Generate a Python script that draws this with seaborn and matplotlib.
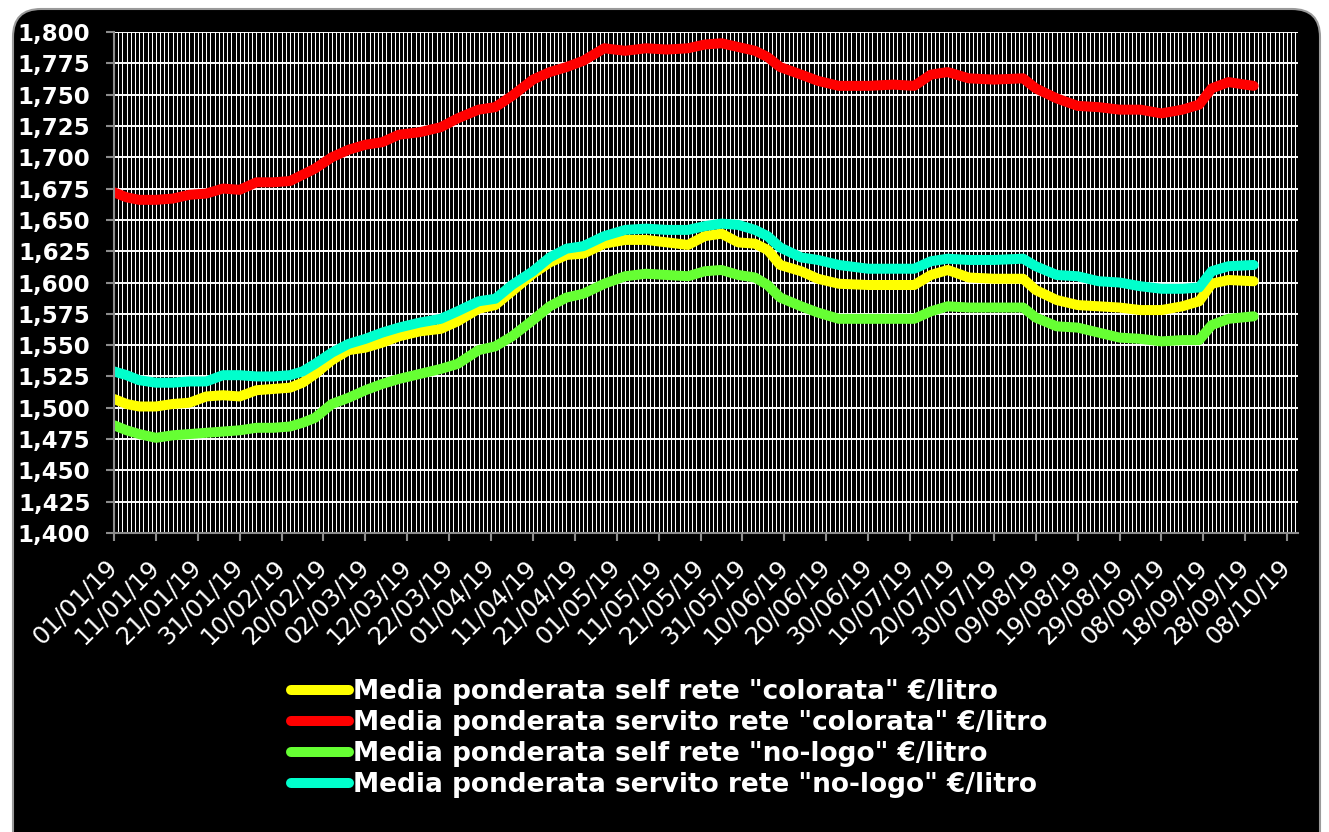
import numpy as np
import pandas as pd
import seaborn as sns
import matplotlib.pyplot as plt
import matplotlib.dates as mdates
from matplotlib.patches import FancyBboxPatch
from matplotlib.transforms import IdentityTransform, ScaledTranslation

dates = ['01/01/19', '04/01/19', '07/01/19', '11/01/19', '15/01/19', '19/01/19', '23/01/19', '27/01/19',
         '31/01/19', '04/02/19', '08/02/19', '12/02/19', '15/02/19', '18/02/19', '22/02/19', '26/02/19',
         '02/03/19', '06/03/19', '10/03/19', '15/03/19', '20/03/19', '24/03/19', '29/03/19', '02/04/19',
         '06/04/19', '11/04/19', '15/04/19', '19/04/19', '23/04/19', '28/04/19', '03/05/19', '08/05/19',
         '13/05/19', '18/05/19', '22/05/19', '26/05/19', '30/05/19', '03/06/19', '06/06/19', '09/06/19',
         '14/06/19', '18/06/19', '23/06/19', '30/06/19', '06/07/19', '11/07/19', '15/07/19', '19/07/19',
         '24/07/19', '30/07/19', '06/08/19', '09/08/19', '14/08/19', '19/08/19', '24/08/19', '29/08/19',
         '03/09/19', '08/09/19', '13/09/19', '17/09/19', '20/09/19', '24/09/19', '30/09/19']

self_colorata = [1.507, 1.503, 1.501, 1.501, 1.503, 1.504, 1.509, 1.510,
                 1.509, 1.514, 1.515, 1.516, 1.520, 1.527, 1.538, 1.546,
                 1.548, 1.552, 1.557, 1.561, 1.563, 1.569, 1.579, 1.582,
                 1.593, 1.607, 1.616, 1.622, 1.623, 1.631, 1.634, 1.634,
                 1.632, 1.630, 1.637, 1.639, 1.632, 1.631, 1.626, 1.614,
                 1.609, 1.603, 1.599, 1.598, 1.598, 1.598, 1.606, 1.610,
                 1.604, 1.603, 1.603, 1.594, 1.586, 1.582, 1.581, 1.580,
                 1.578, 1.578, 1.581, 1.585, 1.599, 1.602, 1.601]

servito_colorata = [1.672, 1.668, 1.666, 1.666, 1.667, 1.670, 1.671, 1.675,
                    1.674, 1.680, 1.680, 1.681, 1.686, 1.691, 1.700, 1.706,
                    1.710, 1.712, 1.718, 1.720, 1.724, 1.731, 1.738, 1.740,
                    1.749, 1.762, 1.768, 1.772, 1.777, 1.787, 1.785, 1.787,
                    1.786, 1.787, 1.790, 1.791, 1.788, 1.785, 1.780, 1.772,
                    1.766, 1.761, 1.757, 1.757, 1.758, 1.757, 1.766, 1.768,
                    1.763, 1.762, 1.763, 1.755, 1.747, 1.741, 1.740, 1.738,
                    1.738, 1.735, 1.738, 1.742, 1.755, 1.760, 1.757]

self_nologo = [1.486, 1.482, 1.479, 1.476, 1.478, 1.479, 1.480, 1.481,
               1.482, 1.484, 1.484, 1.485, 1.488, 1.492, 1.503, 1.508,
               1.514, 1.519, 1.523, 1.527, 1.531, 1.535, 1.546, 1.549,
               1.557, 1.570, 1.581, 1.588, 1.591, 1.599, 1.605, 1.607,
               1.606, 1.605, 1.609, 1.610, 1.606, 1.604, 1.598, 1.588,
               1.581, 1.576, 1.571, 1.571, 1.571, 1.571, 1.577, 1.581,
               1.580, 1.580, 1.580, 1.572, 1.565, 1.564, 1.560, 1.556,
               1.555, 1.553, 1.554, 1.554, 1.566, 1.571, 1.573]

servito_nologo = [1.529, 1.526, 1.522, 1.520, 1.520, 1.521, 1.521, 1.526,
                  1.526, 1.525, 1.525, 1.526, 1.529, 1.535, 1.544, 1.551,
                  1.555, 1.560, 1.564, 1.568, 1.571, 1.577, 1.585, 1.587,
                  1.598, 1.609, 1.620, 1.627, 1.629, 1.637, 1.642, 1.643,
                  1.642, 1.642, 1.645, 1.647, 1.646, 1.642, 1.637, 1.628,
                  1.620, 1.618, 1.614, 1.611, 1.611, 1.611, 1.617, 1.619,
                  1.618, 1.618, 1.619, 1.613, 1.606, 1.605, 1.601, 1.600,
                  1.597, 1.595, 1.595, 1.596, 1.609, 1.613, 1.614]

series = ['Media ponderata self rete "colorata" €/litro',
          'Media ponderata servito rete "colorata" €/litro',
          'Media ponderata self rete "no-logo" €/litro',
          'Media ponderata servito rete "no-logo" €/litro']
colors = ['#FFFF00', '#FF0000', '#66FF33', '#00FFCC']

df = pd.DataFrame({'Data': pd.to_datetime(dates, format='%d/%m/%y'),
                   series[0]: self_colorata,
                   series[1]: servito_colorata,
                   series[2]: self_nologo,
                   series[3]: servito_nologo})
long = df.melt(id_vars='Data', var_name='Serie', value_name='Prezzo')

W, H = 1329, 832
fig = plt.figure(figsize=(W / 100, H / 100), dpi=100, facecolor='white')

# black rounded panel behind everything
bg = FancyBboxPatch((13, -30), 1307, 823 + 30, boxstyle='round,pad=0,rounding_size=28',
                    transform=IdentityTransform(), fc='black', ec='#9a9a9a', lw=1.5, zorder=-5)
fig.add_artist(bg)

ax = fig.add_axes([114 / W, 1 - 533 / H, (1298 - 114) / W, (533 - 32) / H])
ax.set_facecolor('black')

sns.lineplot(data=long, x='Data', y='Prezzo', hue='Serie', hue_order=series, palette=colors,
             linewidth=7.2, solid_capstyle='round', solid_joinstyle='round', ax=ax)

handles, labels = ax.get_legend_handles_labels()
ax.get_legend().remove()
leg = fig.legend(handles, labels, loc='upper left', bbox_to_anchor=(291 / W, 1 - 679 / H),
                 frameon=False, prop=dict(weight='bold', size=19), labelcolor='white',
                 handlelength=2.2, handletextpad=0.15, labelspacing=0.19,
                 borderpad=0, borderaxespad=0)
for h, c in zip(leg.legend_handles, colors):
    h.set_linewidth(7.2)
    h.set_color(c)
    h.set_solid_capstyle('round')

x0 = pd.Timestamp('2019-01-01')
ax.set_xlim(x0, x0 + pd.Timedelta(days=282.6))
ax.set_ylim(1.4, 1.8)

tick_dates = pd.date_range('2019-01-01', '2019-10-08', freq='10D')
ax.set_xticks(tick_dates, labels=[d.strftime('%d/%m/%y') for d in tick_dates],
              rotation=45, ha='right', va='center', rotation_mode='anchor')
yt = np.arange(1.4, 1.8001, 0.025)
ax.set_yticks(yt, labels=[f'{v:.3f}'.replace('.', ',') for v in yt], fontweight='bold')
ax.xaxis.set_minor_locator(mdates.DayLocator())

offset = ScaledTranslation(7 / 100, 0, fig.dpi_scale_trans)
for lab in ax.get_xticklabels():
    lab.set_transform(lab.get_transform() + offset)

ax.set_axisbelow(True)
ax.grid(axis='y', which='major', color='white', lw=1.4)
ax.grid(axis='x', which='both', color='white', lw=0.75)

for s in ['top', 'right']:
    ax.spines[s].set_visible(False)
for s in ['left', 'bottom']:
    ax.spines[s].set_color('#8c8c8c')
    ax.spines[s].set_linewidth(1.5)

ax.tick_params(axis='x', which='major', colors='#8c8c8c', labelcolor='white',
               labelsize=17.5, length=6, width=1.5, pad=16)
ax.tick_params(axis='x', which='minor', length=0)
ax.tick_params(axis='y', colors='#8c8c8c', labelcolor='white',
               labelsize=16.5, length=6, width=1.5, pad=11)
ax.set_xlabel('')
ax.set_ylabel('')

fig.savefig('out.png', dpi=100, facecolor='white')
